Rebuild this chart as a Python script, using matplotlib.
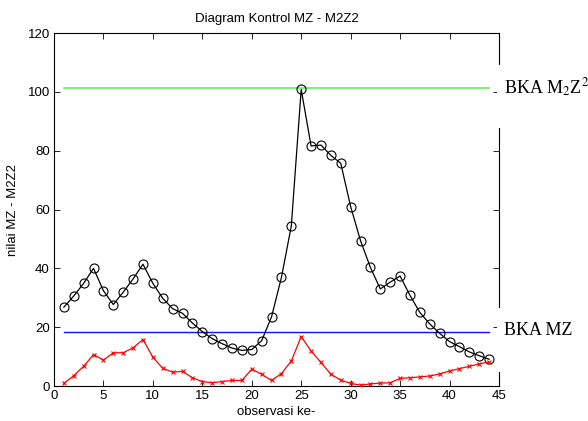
import matplotlib
matplotlib.use("Agg")
import matplotlib.pyplot as plt
from matplotlib.patches import Rectangle
import numpy as np

# observation index
obs = np.arange(1, 45)

# M2Z2 statistic (black, circles)
m2z2 = [26.8, 30.6, 34.9, 40.0, 32.4, 27.7, 31.9, 36.4, 41.4, 34.9,
        29.8, 26.3, 24.7, 21.4, 18.5, 16.1, 14.4, 12.9, 12.1, 12.4,
        15.4, 23.5, 36.9, 54.4, 100.8, 81.6, 81.9, 78.4, 75.7, 61.0,
        49.4, 40.3, 33.0, 35.3, 37.4, 30.8, 25.0, 21.1, 17.9, 15.1,
        13.4, 11.6, 10.3, 9.1]

# MZ statistic (red, crosses)
mz = [0.9, 3.5, 6.7, 10.7, 8.8, 11.3, 11.3, 13.0, 15.8, 9.8,
      6.0, 4.7, 5.0, 2.8, 1.5, 1.1, 1.5, 1.9, 1.9, 5.7,
      4.0, 1.9, 4.2, 8.5, 16.8, 11.9, 8.0, 4.0, 2.0, 0.9,
      0.3, 0.7, 1.0, 1.1, 2.6, 2.8, 3.1, 3.4, 4.1, 5.1,
      5.9, 6.7, 7.5, 8.2]

# upper control limits
bka_m2z2 = 101.4
bka_mz = 18.2

plt.rcParams.update({
    "font.family": "Liberation Sans",
    "font.size": 9.5,
})

fig = plt.figure(figsize=(5.88, 4.21), dpi=100)
ax = fig.add_axes([0.0918, 0.0831, 0.7568, 0.8385])

ax.plot(obs, m2z2, color="black", lw=0.9, marker="o", ms=6.5,
        mfc="none", mew=0.8, zorder=3)
ax.plot(obs, mz, color="#ff0000", lw=0.9, marker="x", ms=3.5,
        mew=0.8, zorder=3)

ax.plot([obs[0], obs[-1]], [bka_m2z2, bka_m2z2], color="#55ee55", lw=1.1, zorder=2)
ax.plot([obs[0], obs[-1]], [bka_mz, bka_mz], color="#1010ff", lw=1.0, zorder=2)

ax.set_xlim(0, 45)
ax.set_ylim(0, 120)
ax.set_xticks(np.arange(0, 46, 5))
ax.set_yticks(np.arange(0, 121, 20))
ax.tick_params(direction="in", top=True, right=True, length=4, width=0.6,
               labelsize=9.5, pad=3)
for sp in ax.spines.values():
    sp.set_linewidth(0.8)

ax.set_title("Diagram Kontrol MZ - M2Z2", fontsize=9.5, pad=8)
ax.set_xlabel("observasi ke-", fontsize=9.5, labelpad=3)
ax.set_ylabel("nilai MZ - M2Z2", fontsize=9.5, labelpad=6)

# white boxes that interrupt the right spine behind the labels
for y0, y1 in [(87.7, 109.1), (4.8, 26.5)]:
    ax.add_patch(Rectangle((44.85, y0), 2.0, y1 - y0, facecolor="white",
                           edgecolor="none", clip_on=False, zorder=4))

ax.text(45.5, bka_m2z2, r"BKA M$_2$Z$^2$", fontsize=13,
        family="Liberation Serif", va="center", ha="left",
        math_fontfamily="stix", clip_on=False, zorder=5)
ax.text(45.5, 19.0, "BKA MZ", fontsize=13,
        family="Liberation Serif", va="center", ha="left",
        clip_on=False, zorder=5)

fig.savefig("out.png", dpi=100)
